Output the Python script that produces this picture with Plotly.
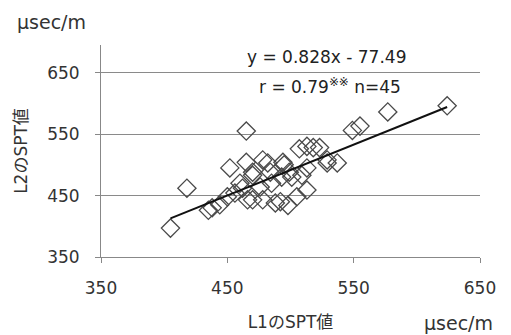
import plotly.graph_objects as go

# L1 SPT values (x) and L2 SPT values (y), micro-sec/m
l1_spt = [405, 418, 435, 438, 444, 450, 452, 456, 462, 465,
          465, 466, 470, 470, 470, 476, 478, 478, 482, 484,
          485, 488, 492, 493, 494, 495, 498, 499, 501, 505,
          507, 509, 513, 513, 513, 518, 523, 529, 529, 537,
          549, 555, 577, 624, 460]
l2_spt = [397, 462, 426, 430, 435, 448, 495, 454, 462, 555,
          504, 443, 488, 483, 443, 464, 508, 443, 503, 488,
          470, 438, 440, 480, 504, 500, 434, 488, 480, 448,
          526, 483, 530, 495, 459, 528, 528, 508, 503, 503,
          556, 563, 586, 596, 470]

slope = 0.828
intercept = 77.49
eq_text = "y = 0.828x - 77.49"
r_text = "r = 0.79<sup>※※</sup> n=45"

x_ticks = [350, 450, 550, 650]
y_ticks = [350, 450, 550, 650]

fx = [min(l1_spt), max(l1_spt)]
fy = [slope * v + intercept for v in fx]

font_family = "DejaVu Sans, Noto Sans CJK JP, sans-serif"
fs = 17
txt_color = "#333333"

fig = go.Figure()
fig.add_trace(go.Scatter(
    x=l1_spt, y=l2_spt, mode="markers",
    marker=dict(symbol="diamond-open", size=14, color="#4a4a4a",
                line=dict(width=1.3, color="#4a4a4a")),
    showlegend=False, hoverinfo="x+y"))
fig.add_trace(go.Scatter(
    x=fx, y=fy, mode="lines",
    line=dict(color="#111111", width=2), showlegend=False, hoverinfo="skip"))

# page body has an 8px margin, so the figure is 8px smaller on each axis
fig.update_layout(
    width=503, height=327,
    margin=dict(l=93, r=31, t=37, b=78),
    paper_bgcolor="white", plot_bgcolor="white",
    font=dict(family=font_family, size=fs, color=txt_color),
    xaxis=dict(range=[350, 650], tickvals=x_ticks, ticktext=[str(v) for v in x_ticks],
               showgrid=False, zeroline=False, showline=True, linecolor="#888888",
               linewidth=1, ticks="outside", ticklen=5, tickcolor="#888888",
               ticklabelstandoff=11, tickfont=dict(size=fs), automargin=False,
               title=dict(text="L1のSPT値", standoff=18, font=dict(size=fs))),
    yaxis=dict(range=[350, 695], tickvals=y_ticks, ticktext=[str(v) for v in y_ticks],
               showgrid=True, gridcolor="#8a8a8a", gridwidth=1, zeroline=False,
               showline=True, linecolor="#888888", linewidth=1,
               ticks="outside", ticklen=5, tickcolor="#888888",
               ticklabelstandoff=12, tickfont=dict(size=fs), automargin=False,
               title=dict(text="L2のSPT値", standoff=15, font=dict(size=fs))),
)

# unit labels
fig.add_annotation(x=0, y=1.0, xref="paper", yref="paper", xanchor="left", yanchor="middle",
                   xshift=-86, yshift=23, text="μsec/m", showarrow=False,
                   font=dict(size=19, color=txt_color))
fig.add_annotation(x=1.0, y=0.0, xref="paper", yref="paper", xanchor="center", yanchor="middle",
                   xshift=-22, yshift=-66, text="μsec/m", showarrow=False,
                   font=dict(size=19, color=txt_color))
# regression text
fig.add_annotation(x=0.595, y=1.0, xref="paper", yref="paper", xanchor="center", yanchor="middle",
                   yshift=-12, text=eq_text, showarrow=False, font=dict(size=fs, color="#222222"))
fig.add_annotation(x=0.605, y=1.0, xref="paper", yref="paper", xanchor="center", yanchor="middle",
                   yshift=-41, text=r_text, showarrow=False, font=dict(size=fs, color="#222222"))

fig.write_html("out.html")
